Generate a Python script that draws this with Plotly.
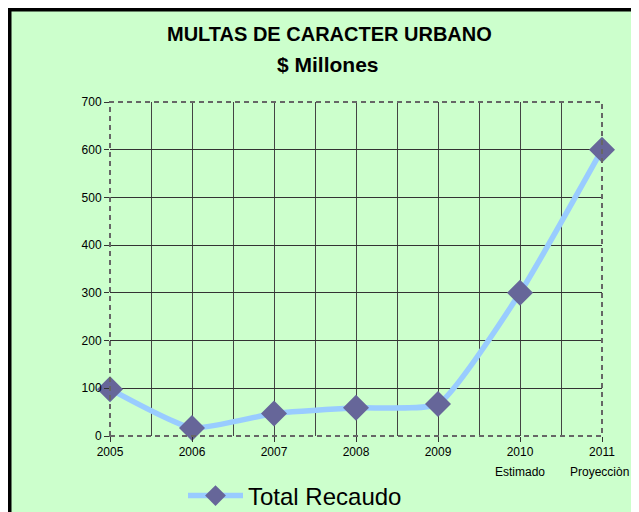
import plotly.graph_objects as go

years = [2005, 2006, 2007, 2008, 2009, 2010, 2011]
year_labels = ["2005", "2006", "2007", "2008", "2009", "2010", "2011"]
sub_labels = ["", "", "", "", "", "Estimado", "Proyecciòn"]
recaudo = [98, 17, 47, 59, 67, 300, 600]
y_ticks = [0, 100, 200, 300, 400, 500, 600, 700]
series_name = "Total Recaudo"

# page has an 8px body margin; figure coordinates = reference pixels - 8
OFF = 8
W, H = 631, 504
x0, x1 = 110 - OFF, 602 - OFF
yt, yb = 102 - OFF, 436 - OFF

def px(x):
    return (x - OFF) / W

def py(y):
    return 1 - (y - OFF) / H

fig = go.Figure()
fig.add_trace(go.Scatter(
    x=years, y=recaudo, name=series_name, mode="lines+markers",
    line=dict(color="#99CCFF", width=5.5, shape="spline", smoothing=0.5),
    marker=dict(symbol="diamond", size=20, color="#666699",
                line=dict(color="#666699", width=0)),
    cliponaxis=False,
))

annotations = [
    dict(text="<b>MULTAS DE CARACTER URBANO</b>", xref="paper", yref="paper",
         x=px(329), y=py(34), xanchor="center", yanchor="middle",
         showarrow=False, font=dict(size=20)),
    dict(text="<b>$ Millones</b>", xref="paper", yref="paper",
         x=px(328), y=py(64), xanchor="center", yanchor="middle",
         showarrow=False, font=dict(size=21)),
]
for yr, sub in zip(years, sub_labels):
    if sub:
        annotations.append(dict(text=sub, xref="x", yref="paper", x=yr, y=py(472),
                                xanchor="center", yanchor="middle", showarrow=False,
                                xshift=-3 if yr == years[-1] else 0,
                                font=dict(size=12)))

fig.update_layout(
    width=W, height=H,
    margin=dict(l=0, r=0, t=0, b=0, autoexpand=False),
    paper_bgcolor="#CCFFCC",
    plot_bgcolor="#FFFFCC",
    font=dict(family="Liberation Sans, Arial, sans-serif", color="black"),
    showlegend=True,
    legend=dict(orientation="h", x=px(295), xanchor="center", y=py(496), yanchor="middle",
                font=dict(size=24), bgcolor="rgba(0,0,0,0)", itemwidth=55),
    xaxis=dict(
        domain=[x0 / W, x1 / W], range=[2005, 2011], automargin=False,
        tickvals=years, ticktext=year_labels, tickfont=dict(size=12),
        ticklabeloverflow="allow",
        ticks="outside", ticklen=5, tickcolor="#333",
        showgrid=True, gridcolor="#444", gridwidth=1,
        minor=dict(dtick=0.5, tick0=2005, showgrid=True, gridcolor="#444", gridwidth=1, ticks=""),
        showline=False, zeroline=False, fixedrange=True,
    ),
    yaxis=dict(
        domain=[1 - yb / H, 1 - yt / H], range=[0, 700], automargin=False,
        tickvals=y_ticks, tickfont=dict(size=12),
        ticks="outside", ticklen=5, tickcolor="#333",
        showgrid=True, gridcolor="#333", gridwidth=1,
        showline=False, zeroline=False, fixedrange=True,
    ),
    shapes=[
        dict(type="rect", xref="paper", yref="paper", layer="below",
             x0=0, x1=1.2, y0=-0.2, y1=1,
             fillcolor="#CCFFCC", line=dict(color="black", width=7)),
        dict(type="rect", xref="paper", yref="paper", layer="above",
             x0=x0 / W, x1=x1 / W, y0=1 - yb / H, y1=1 - yt / H,
             line=dict(color="#666", width=2, dash="5px,4px")),
    ],
    annotations=annotations,
)

fig.write_html("out.html")
